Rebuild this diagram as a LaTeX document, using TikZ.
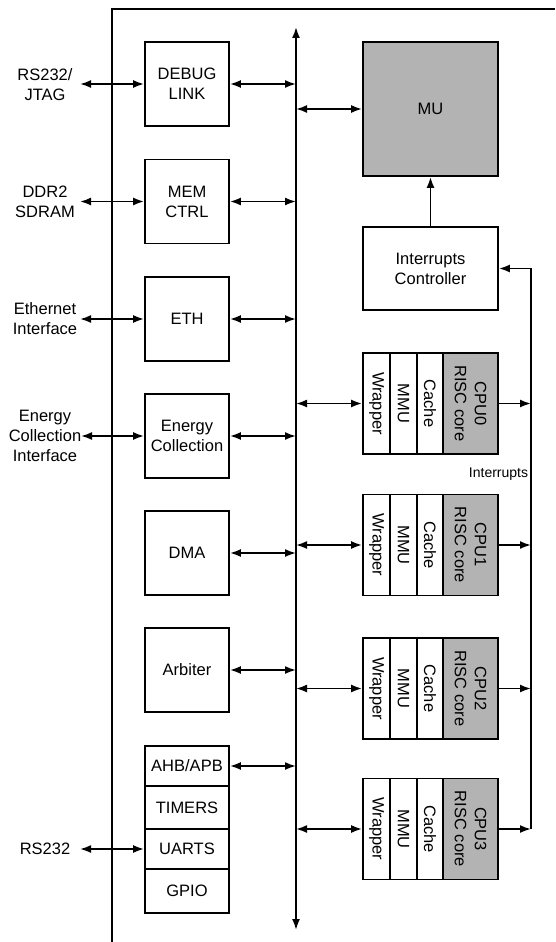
\documentclass[tikz,border=0pt]{standalone}
\usepackage{fontspec}
\setmainfont{Liberation Sans}
\usetikzlibrary{arrows.meta}
\definecolor{coregray}{RGB}{179,179,179}
\begin{document}
\begin{tikzpicture}[x=1pt,y=-1pt,
  line width=1.8pt,
  >={Latex[length=11pt,width=8pt]},
  every node/.style={font=\fontsize{16.5}{20}\selectfont, align=center},
  blk/.style={draw, line width=1.8pt, minimum width=84pt, minimum height=84pt, inner sep=1pt},
  subblk/.style={draw, line width=1.8pt, minimum width=84pt, inner sep=1pt},
  col/.style={draw, line width=1.8pt, rotate=-90, minimum width=101pt, inner sep=1pt},
  smalltxt/.style={font=\fontsize{14}{16}\selectfont},
]
\useasboundingbox (0,0) rectangle (555,942);

% outer frame (open)
\draw (112,942) -- (112,9) -- (555,9);

% bus
\coordinate (bustop) at (296,27);
\coordinate (busbot) at (296,930);
\draw[<->] (bustop) -- (busbot);

% left blocks
\node[blk] (debug) at (187,84) {DEBUG\\LINK};
\node[blk] (mem) at (187,201.5) {MEM\\CTRL};
\node[blk] (eth) at (187,319) {ETH};
\node[blk] (energy) at (187,436) {Energy\\Collection};
\node[blk] (dma) at (187,553) {DMA};
\node[blk] (arb) at (187,670) {Arbiter};
\node[subblk, minimum height=40pt] (ahb) at (187,766) {AHB/APB};
\node[subblk, minimum height=43pt] (tim) at (187,807.5) {TIMERS};
\node[subblk, minimum height=40pt] (uart) at (187,849) {UARTS};
\node[subblk, minimum height=44pt] (gpio) at (187,891) {GPIO};

% external labels
\node (lrs) at (45,85) {RS232/\\JTAG};
\node (lddr) at (45,202) {DDR2\\SDRAM};
\node (leth) at (45,319) {Ethernet\\Interface};
\node (lec) at (45,436) {Energy\\Collection\\Interface};
\node (luart) at (45,849) {RS232};

\coordinate (p1) at (80,84);
\coordinate (p2) at (80,201.5);
\coordinate (p3) at (80,319);
\coordinate (p4) at (81,436);
\coordinate (p5) at (80,849);
\draw[<->] (p1) -- (debug.west);
\draw[<->] (p2) -- (mem.west);
\draw[<->] (p3) -- (eth.west);
\draw[<->] (p4) -- (energy.west);
\draw[<->] (p5) -- (uart.west);

% block to bus
\foreach \n in {debug,mem,eth,energy,dma,arb,ahb}
  \draw[<->] (\n.east) -- (\n.east -| bustop);

% MU and interrupt controller
\node[blk, fill=coregray, minimum width=135pt, minimum height=134pt] (mu) at (430.5,109) {MU};
\draw[<->] (mu.west -| bustop) -- (mu.west);
\node[blk, minimum width=135pt, minimum height=83pt] (ic) at (430.5,268.5) {Interrupts\\Controller};
\draw[->] (ic.north) -- (mu.south);

% interrupt line
\coordinate (irq) at (531,829);
\draw[->] (irq) |- (ic.east);
\node[smalltxt, anchor=east, inner sep=1pt] (irqlbl) at (530,474) {Interrupts};

% CPUs
\foreach \i/\y in {0/403.5,1/545,2/688.5,3/829}{
  \node[minimum width=135pt, minimum height=101pt, inner sep=0pt] (cpu\i) at (430.5,\y) {};
  \node[col, minimum height=27pt] (w\i) at (376.5,\y) {Wrapper};
  \node[col, minimum height=27pt] (m\i) at (403.5,\y) {MMU};
  \node[col, minimum height=26pt] (c\i) at (430,\y) {Cache};
  \node[col, minimum height=55pt, fill=coregray] (k\i) at (470.5,\y) {CPU\i\\RISC core};
  \draw[<->] (cpu\i.west -| bustop) -- (cpu\i.west);
  \draw[->] (cpu\i.east) -- (cpu\i.east -| irq);
}
\end{tikzpicture}
\end{document}
